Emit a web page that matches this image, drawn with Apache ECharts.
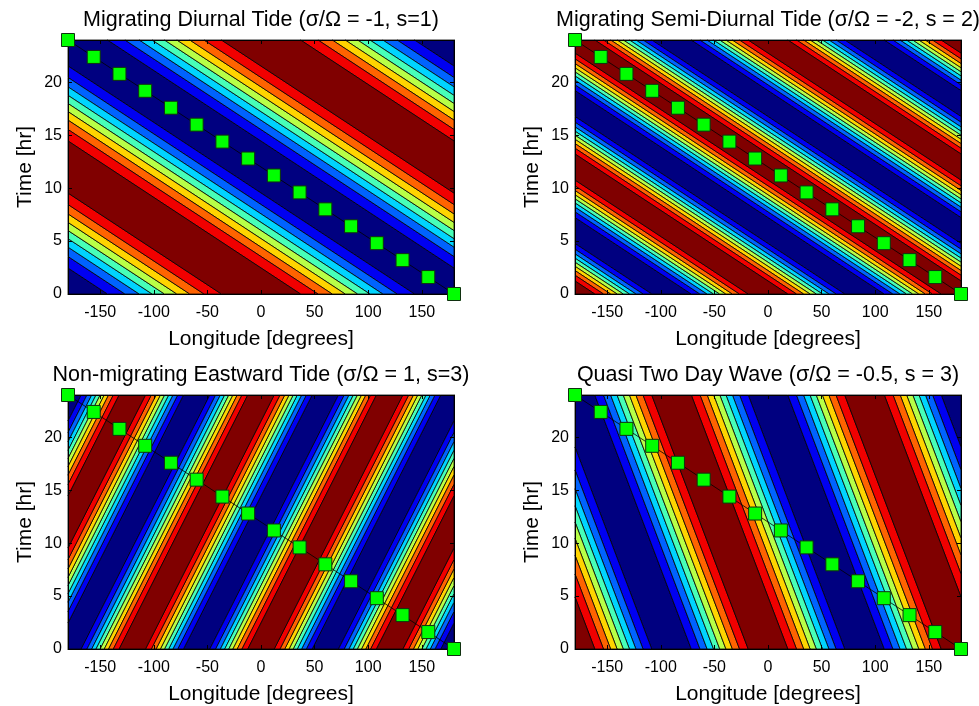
<!DOCTYPE html>
<html>
<head>
<meta charset="utf-8">
<script src="https://cdn.jsdelivr.net/npm/echarts@6/dist/echarts.min.js"></script>
<style>
  html, body { margin: 0; background: #fff; }
  #main { width: 979px; height: 706px; }
</style>
</head>
<body>
<div id="main"></div>
<script>
// panel titles and the wave seen in each panel
var titles = [
  'Migrating Diurnal Tide (\u03c3/\u03a9 = -1, s=1)',
  'Migrating Semi-Diurnal Tide (\u03c3/\u03a9 = -2, s = 2)',
  'Non-migrating Eastward Tide (\u03c3/\u03a9 = 1, s=3)',
  'Quasi Two Day Wave (\u03c3/\u03a9 = -0.5, s = 3)'
];
var waveNumber = [1, 2, 3, 2];        // bands per 360 deg, read from the fields
var freqRatio = [-1, -2, 1, -0.5];    // sigma / Omega
var phaseShift = [0, 0, 0, 0];        // deg

var contourLevels = [-0.8, -0.6, -0.4, -0.2, 0, 0.2, 0.4, 0.6, 0.8];
var jetColors = ['#000080', '#0000f1', '#0063ff', '#00d4ff', '#47ffb8',
                 '#b8ff47', '#ffd400', '#ff6300', '#f10000', '#800000'];

// green squares (sun-synchronous line)
var markerLon = [-180, -156, -132, -108, -84, -60, -36, -12, 12, 36, 60, 84, 108, 132, 156, 180];
var markerTime = [24, 22.4, 20.8, 19.2, 17.6, 16, 14.4, 12.8, 11.2, 9.6, 8, 6.4, 4.8, 3.2, 1.6, 0];

var lonRange = [-180, 180];
var timeRange = [0, 24];
var lonTicks = [-150, -100, -50, 0, 50, 100, 150];
var timeTicks = [0, 5, 10, 15, 20];

var OMEGA = 15; // deg / hr

// grid boxes (px)
var boxes = [
  { left: 68, top: 40 }, { left: 575, top: 40 },
  { left: 68, top: 395 }, { left: 575, top: 395 }
];
var boxW = 386, boxH = 254;
var FONT = 'Liberation Sans, Arial, Helvetica, sans-serif';

function acosd(v) { return Math.acos(v) * 180 / Math.PI; }

// phase bands [lo, hi, colour index] covering the box
function bandList(k) {
  var s = waveNumber[k], sig = freqRatio[k] * OMEGA, ph = phaseShift[k];
  var ps = [];
  [[lonRange[0], timeRange[0]], [lonRange[1], timeRange[0]],
   [lonRange[0], timeRange[1]], [lonRange[1], timeRange[1]]].forEach(function (c) {
    ps.push(s * c[0] - sig * c[1] - ph);
  });
  var pmin = Math.min.apply(null, ps), pmax = Math.max.apply(null, ps);
  var n = jetColors.length, bands = [];
  for (var j = 0; j < n; j++) {
    var ivs;
    if (j === n - 1) {
      var a = acosd(contourLevels[n - 2]);
      ivs = [[-a, a]];
    } else if (j === 0) {
      var b = acosd(contourLevels[0]);
      ivs = [[b, 360 - b]];
    } else {
      var lo = acosd(contourLevels[j]), hi = acosd(contourLevels[j - 1]);
      ivs = [[lo, hi], [-hi, -lo]];
    }
    for (var m = Math.floor(pmin / 360) - 1; m <= Math.ceil(pmax / 360) + 1; m++) {
      ivs.forEach(function (iv) {
        var l = iv[0] + 360 * m, h = iv[1] + 360 * m;
        if (h > pmin && l < pmax) bands.push([l, h, j]);
      });
    }
  }
  return bands;
}

// keep the part of a polygon where f >= 0
function clipPoly(poly, f) {
  var out = [];
  for (var i = 0; i < poly.length; i++) {
    var P = poly[i], Q = poly[(i + 1) % poly.length];
    var fp = f(P), fq = f(Q);
    if (fp >= 0) out.push(P);
    if ((fp >= 0) !== (fq >= 0)) {
      var r = fp / (fp - fq);
      out.push([P[0] + (Q[0] - P[0]) * r, P[1] + (Q[1] - P[1]) * r]);
    }
  }
  return out;
}

function makeRender(k) {
  var s = waveNumber[k], sig = freqRatio[k] * OMEGA, ph = phaseShift[k];
  var phase = function (p) { return s * p[0] - sig * p[1] - ph; };
  return function (params, api) {
    var lo = api.value(0), hi = api.value(1), ci = api.value(2);
    var poly = [[lonRange[0], timeRange[0]], [lonRange[1], timeRange[0]],
                [lonRange[1], timeRange[1]], [lonRange[0], timeRange[1]]];
    poly = clipPoly(poly, function (p) { return phase(p) - lo; });
    poly = clipPoly(poly, function (p) { return hi - phase(p); });
    if (poly.length < 3) return;
    return {
      type: 'polygon',
      shape: { points: poly.map(function (p) { return api.coord(p); }) },
      style: { fill: jetColors[ci], stroke: '#000', lineWidth: 0.8 }
    };
  };
}

var grids = [], xAxes = [], yAxes = [], series = [], titleList = [];
var markerData = markerLon.map(function (x, i) { return [x, markerTime[i]]; });

boxes.forEach(function (b, k) {
  grids.push({ left: b.left, top: b.top, width: boxW, height: boxH,
               containLabel: false, outerBoundsMode: 'none' });
  titleList.push({
    text: titles[k], left: b.left + boxW / 2, top: b.top - 31, textAlign: 'center', padding: 0,
    textStyle: { fontFamily: FONT, fontSize: 21.5, fontWeight: 'normal', color: '#000' }
  });
  var tick = { show: true, inside: true, length: 4, lineStyle: { color: '#000', width: 1 } };
  xAxes.push({
    gridIndex: k, type: 'value', min: lonRange[0], max: lonRange[1], z: 3,
    axisLine: { show: true, onZero: false, lineStyle: { color: '#000', width: 1 } },
    axisTick: Object.assign({ customValues: lonTicks }, tick),
    axisLabel: { customValues: lonTicks, color: '#000', fontFamily: FONT, fontSize: 16, margin: 11 },
    splitLine: { show: false },
    name: 'Longitude [degrees]', nameLocation: 'middle', nameGap: 35,
    nameTextStyle: { color: '#000', fontFamily: FONT, fontSize: 21 }
  });
  xAxes.push({
    gridIndex: k, type: 'value', position: 'top', min: lonRange[0], max: lonRange[1], z: 3,
    axisLine: { show: true, onZero: false, lineStyle: { color: '#000', width: 1 } },
    axisTick: Object.assign({ customValues: lonTicks }, tick),
    axisLabel: { show: false }, splitLine: { show: false }
  });
  yAxes.push({
    gridIndex: k, type: 'value', min: timeRange[0], max: timeRange[1], z: 3,
    axisLine: { show: true, onZero: false, lineStyle: { color: '#000', width: 1 } },
    axisTick: Object.assign({ customValues: timeTicks }, tick),
    axisLabel: { customValues: timeTicks, color: '#000', fontFamily: FONT, fontSize: 16, margin: 6 },
    splitLine: { show: false },
    name: 'Time [hr]', nameLocation: 'middle', nameGap: 32,
    nameTextStyle: { color: '#000', fontFamily: FONT, fontSize: 21 }
  });
  yAxes.push({
    gridIndex: k, type: 'value', position: 'right', min: timeRange[0], max: timeRange[1], z: 3,
    axisLine: { show: true, onZero: false, lineStyle: { color: '#000', width: 1 } },
    axisTick: Object.assign({ customValues: timeTicks }, tick),
    axisLabel: { show: false }, splitLine: { show: false }
  });
  series.push({
    type: 'custom', xAxisIndex: 2 * k, yAxisIndex: 2 * k, z: 1,
    renderItem: makeRender(k), data: bandList(k), animation: false, silent: true
  });
  series.push({
    type: 'line', xAxisIndex: 2 * k, yAxisIndex: 2 * k, z: 5, clip: false,
    data: markerData, symbol: 'rect', symbolSize: 13, showAllSymbol: true,
    itemStyle: { color: '#00ff00', borderColor: '#103010', borderWidth: 1 },
    lineStyle: { color: '#000', width: 0.8 }, animation: false, silent: true
  });
});

var chart = echarts.init(document.getElementById('main'), null, { renderer: 'canvas' });
chart.setOption({
  backgroundColor: '#fff',
  animation: false,
  title: titleList,
  grid: grids,
  xAxis: xAxes,
  yAxis: yAxes,
  series: series
});
</script>
</body>
</html>
